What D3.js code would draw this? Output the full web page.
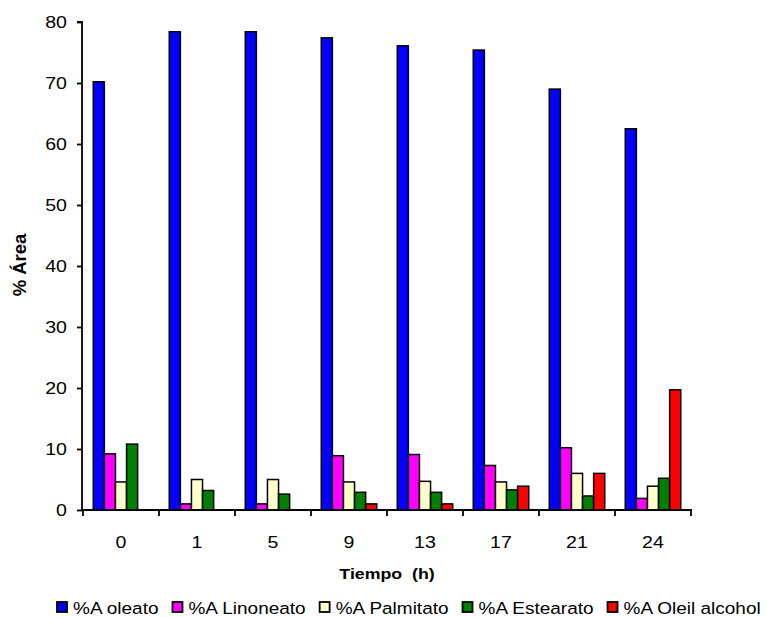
<!DOCTYPE html>
<html>
<head>
<meta charset="utf-8">
<script src="https://cdn.jsdelivr.net/npm/d3@7"></script>
<style>
  html, body { margin: 0; padding: 0; background: #fff; }
  svg text { font-family: Arial, "Liberation Sans", sans-serif; fill: #000; }
</style>
</head>
<body>
<svg id="chart" width="766" height="617"></svg>
<script>
// ---- Data ----
const categories = ["0", "1", "5", "9", "13", "17", "21", "24"];
const seriesNames = ["%A oleato", "%A Linoneato", "%A Palmitato", "%A Estearato", "%A Oleil alcohol"];
const oleato    = [70.2, 78.4, 78.4, 77.4, 76.1, 75.4, 69.0, 62.5];
const linoneato = [9.2, 1.0, 1.0, 8.9, 9.1, 7.3, 10.2, 1.9];
const palmitato = [4.6, 5.0, 5.0, 4.6, 4.7, 4.6, 6.0, 3.9];
const estearato = [10.8, 3.2, 2.6, 2.9, 2.9, 3.3, 2.3, 5.2];
const oleil     = [0, 0, 0, 1.0, 1.0, 3.9, 6.0, 19.7];
const yTicks = [0, 10, 20, 30, 40, 50, 60, 70, 80];
const colors = ["#0000FF", "#FF00FF", "#FFFFCC", "#008000", "#FF0000"];

const seriesValues = [oleato, linoneato, palmitato, estearato, oleil];

// ---- Layout ----
const svg = d3.select("#chart");
const X0 = 83, X1 = 691, Y0 = 510, Y1 = 22;
const SX = 1.2;   // horizontal text stretch of the original (axis labels)
const SXL = 1.165; // legend stretch

const x = d3.scaleBand().domain(categories).range([X0, X1]).padding(0);
const inner = d3.scaleBand().domain(d3.range(seriesNames.length))
  .range([0, x.bandwidth()]).paddingInner(0).paddingOuter(0.925);
const y = d3.scaleLinear().domain([0, 80]).range([Y0, Y1]);

// ---- Bars ----
const rows = [];
categories.forEach((c, i) => {
  seriesValues.forEach((arr, s) => rows.push({ c, s, v: arr[i] }));
});
svg.append("g").selectAll("rect")
  .data(rows.filter(d => d.v > 0))
  .join("rect")
  .attr("x", d => x(d.c) + inner(d.s))
  .attr("y", d => y(d.v))
  .attr("width", inner.bandwidth())
  .attr("height", d => y(0) - y(d.v))
  .attr("fill", d => colors[d.s])
  .attr("stroke", "#000")
  .attr("stroke-width", 1.5);

// ---- Axes ----
const yAxis = svg.append("g").attr("transform", `translate(${X0 - 1},0)`)
  .call(d3.axisLeft(y).tickValues(yTicks).tickSize(5).tickFormat(""));
yAxis.select(".domain").attr("d", `M-5,${Y1}H0V${Y0}`).attr("stroke-width", 1.8);
yAxis.selectAll(".tick line").attr("stroke-width", 1.8);

const xAxis = svg.append("g").attr("transform", `translate(0,${Y0})`);
xAxis.append("line").attr("x1", X0 - 1).attr("x2", X1 + 1).attr("y1", 0).attr("y2", 0)
  .attr("stroke", "#000").attr("stroke-width", 1.8);
const boundaries = categories.map(c => x(c)).concat([x(categories[categories.length - 1]) + x.bandwidth()]);
xAxis.selectAll("line.tk").data(boundaries).join("line").attr("class", "tk")
  .attr("x1", d => d).attr("x2", d => d).attr("y1", 0).attr("y2", 6)
  .attr("stroke", "#000").attr("stroke-width", 1.8);

function stretchedText(parent, tx, ty, str, size, anchor, weight, dy, sx) {
  return parent.append("text")
    .attr("transform", `translate(${tx},${ty}) scale(${sx || SX},1)`)
    .attr("text-anchor", anchor)
    .attr("font-size", size)
    .attr("font-weight", weight || "normal")
    .attr("dy", dy || 0)
    .style("white-space", "pre")
    .text(str);
}

// y tick labels
yTicks.forEach(t => stretchedText(svg, 67, y(t), String(t), 16.3, "end", "normal", "0.36em"));
// x tick labels
categories.forEach(c => stretchedText(svg, x(c) + x.bandwidth() / 2, 548, c, 16.3, "middle"));

// axis titles
stretchedText(svg, 387, 579, "Tiempo  (h)", 14.8, "middle", "bold");
svg.append("text")
  .attr("transform", `translate(26,265) rotate(-90)`)
  .attr("text-anchor", "middle")
  .attr("font-size", 18.5)
  .attr("font-weight", "bold")
  .style("white-space", "pre")
  .text("% Área");

// ---- Legend ----
const legend = svg.append("g");
let lx = 57;
const ly = 614;
seriesNames.forEach((name, i) => {
  legend.append("rect")
    .attr("x", lx).attr("y", ly - 12).attr("width", 10).attr("height", 10)
    .attr("fill", colors[i]).attr("stroke", "#000").attr("stroke-width", 1.8);
  const t = stretchedText(legend, lx + 16, ly, name, 16.3, "start", "normal", 0, SXL);
  const w = t.node().getComputedTextLength() * SXL;
  lx = lx + 16 + w + 14;
});
</script>
</body>
</html>
